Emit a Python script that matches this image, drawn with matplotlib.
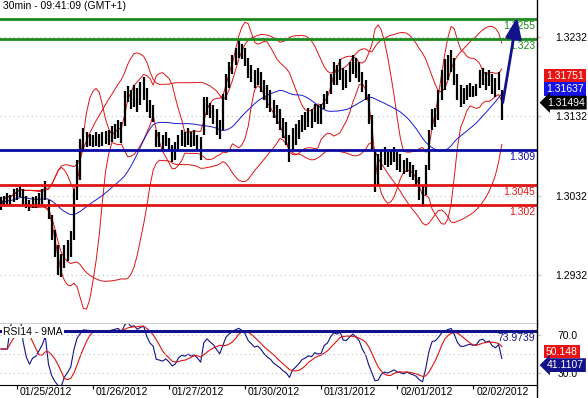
import matplotlib
matplotlib.use("Agg")
import matplotlib.pyplot as plt
import numpy as np
import pandas as pd
from matplotlib.lines import Line2D
from matplotlib.transforms import ScaledTranslation

plt.rcParams['font.family'] = ['Liberation Sans', 'DejaVu Sans']

title = "30min - 09:41:09 (GMT+1)"
dates = ["01/25/2012", "01/26/2012", "01/27/2012", "01/30/2012",
         "01/31/2012", "02/01/2012", "02/02/2012"]
day_start = [5, 29, 53, 77, 101, 125, 149]   # bar index at 00:00 of each day

# hourly highs / lows, in pips (price * 10000)
high_pips = [13030, 13032, 13035, 13033, 13040, 13042, 13045, 13040, 13032, 13027,
             13030, 13031, 13035, 13040, 13050, 13027, 13008, 12989, 12970, 12958,
             12970, 12976, 12987, 13040, 13077, 13103, 13118, 13113, 13110, 13108,
             13112, 13110, 13113, 13114, 13115, 13120, 13123, 13128, 13125, 13164,
             13170, 13166, 13172, 13168, 13176, 13182, 13168, 13153, 13147, 13115,
             13112, 13109, 13113, 13105, 13096, 13100, 13109, 13115, 13113, 13118,
             13113, 13115, 13109, 13106, 13157, 13157, 13149, 13147, 13141, 13128,
             13160, 13185, 13201, 13210, 13219, 13229, 13223, 13219, 13206, 13197,
             13191, 13193, 13188, 13178, 13172, 13166, 13153, 13147, 13141, 13130,
             13125, 13109, 13118, 13123, 13128, 13134, 13138, 13143, 13141, 13148,
             13146, 13148, 13160, 13164, 13185, 13201, 13197, 13204, 13193, 13191,
             13201, 13210, 13206, 13201, 13188, 13178, 13160, 13134, 13090, 13084,
             13090, 13093, 13087, 13090, 13093, 13087, 13084, 13077, 13080, 13075,
             13071, 13065, 13055, 13046, 13071, 13115, 13141, 13143, 13166, 13191,
             13204, 13210, 13216, 13206, 13185, 13172, 13168, 13172, 13174, 13170,
             13173, 13191, 13193, 13188, 13191, 13185, 13181, 13188, 13166]
low_pips = [13014, 13019, 13022, 13021, 13024, 13027, 13030, 13022, 13017, 13013,
            13016, 13017, 13019, 13022, 13027, 13002, 12976, 12954, 12932, 12929,
            12941, 12949, 12954, 12976, 13027, 13052, 13090, 13093, 13095, 13093,
            13095, 13093, 13095, 13097, 13096, 13100, 13103, 13105, 13099, 13120,
            13150, 13142, 13144, 13138, 13147, 13153, 13138, 13130, 13125, 13094,
            13093, 13090, 13095, 13088, 13074, 13077, 13090, 13095, 13093, 13096,
            13093, 13095, 13090, 13077, 13109, 13134, 13130, 13122, 13109, 13103,
            13115, 13153, 13168, 13185, 13197, 13206, 13204, 13196, 13181, 13176,
            13168, 13172, 13163, 13153, 13143, 13138, 13130, 13122, 13115, 13105,
            13096, 13074, 13090, 13096, 13103, 13113, 13115, 13119, 13117, 13125,
            13122, 13122, 13141, 13148, 13160, 13172, 13172, 13178, 13166, 13168,
            13176, 13185, 13181, 13176, 13163, 13153, 13122, 13090, 13037, 13046,
            13065, 13071, 13068, 13071, 13074, 13065, 13062, 13059, 13062, 13055,
            13052, 13046, 13027, 13018, 13033, 13065, 13115, 13119, 13128, 13153,
            13166, 13178, 13188, 13172, 13153, 13144, 13148, 13153, 13157, 13156,
            13158, 13168, 13172, 13166, 13171, 13160, 13157, 13166, 13128]

levels = [1.3255, 1.323, 1.309, 1.3045, 1.302]
level_labels = ["1.3255", "1.323", "1.309", "1.3045", "1.302"]
level_colors = ["#1c8a1c", "#1c8a1c", "#0a0aa5", "#e01414", "#e01414"]
price_ticks = [1.2932, 1.3032, 1.3132, 1.3232]

band_last = 1.31751
ma_last = 1.31637
last_close = 1.31494
target = 1.3257

rsi_level = 73.9739
rsi_ma_last = 50.148
rsi_last = 41.1107

# ---- indicators
hi = np.array(high_pips) / 10000
lo = np.array(low_pips) / 10000
idx = np.arange(len(hi))
s = pd.Series((hi + lo) / 2)

ma = s.rolling(25, min_periods=1).mean()
sd_long = s.rolling(25, min_periods=1).std(ddof=0)
m10 = s.rolling(10, min_periods=1).mean()
sd10 = s.rolling(10, min_periods=1).std(ddof=0)

d = s.diff().fillna(0)
ag = d.clip(lower=0).ewm(alpha=1 / 12, adjust=False).mean()
al = (-d.clip(upper=0)).ewm(alpha=1 / 12, adjust=False).mean()
rsi = 100 - 100 / (1 + ag / al.replace(0, np.nan))
rsi = rsi.fillna(55)
rsi_ma = rsi.rolling(6, min_periods=1).mean()

# ---- figure
W, H = 588, 398
fig = plt.figure(figsize=(W / 100, H / 100), dpi=100)
ax = fig.add_axes([0, 74 / H, 537 / W, 324 / H])
ax2 = fig.add_axes([0, 13 / H, 537 / W, 61 / H])
xl = (-0.3, 169.1)

red = "#dc1414"
navy = "#12128c"

ax.plot(idx, m10 + 2 * sd10, color=red, lw=0.7)
ax.plot(idx, m10 - 2 * sd10, color=red, lw=0.7)
ax.plot(idx, ma + 2 * sd_long, color=red, lw=0.7)
ax.plot(idx, ma - 2 * sd_long, color=red, lw=0.7)
ax.plot(idx, ma, color="#1a1ad0", lw=0.7)
ax.vlines(idx, lo, hi, color="black", lw=1.6)

for lv, lab, c in zip(levels, level_labels, level_colors):
    ax.axhline(lv, color=c, lw=2)
    ax.annotate(lab, xy=(0.996, lv), xycoords=ax.get_yaxis_transform(),
                xytext=(0, -2), textcoords="offset pixels",
                ha="right", va="top", color=c, fontsize=7.5)

ax.annotate("", xy=(162.8, target), xytext=(158.3, last_close),
            arrowprops=dict(arrowstyle="-|>,head_length=0.9,head_width=0.35",
                            color=navy, lw=2, shrinkA=0, shrinkB=0,
                            mutation_scale=14))

ax.set_xlim(*xl)
ax.set_ylim(1.2870, 1.3279)
ax.set_xticks([])
ax.yaxis.tick_right()
ax.set_yticks(price_ticks)
ax.set_yticklabels([f"{t:.4f}" for t in price_ticks])
ax.tick_params(axis="y", length=3, color="#c8c8c8", pad=10, labelsize=7.5)
ax.grid(axis="y", linestyle=(0, (1, 3)), color="#bdbdbd", lw=0.8)
for sp in ["top", "left", "right"]:
    ax.spines[sp].set_visible(False)
ax.spines["bottom"].set_linewidth(1)

tr = ax.get_yaxis_transform()
for val, txt, fc, dy, style, x0 in [
        (band_last, "1.31751", "#e81414", 6, "square,pad=0.18", 9),
        (ma_last, "1.31637", "#1414e6", 2, "square,pad=0.18", 9),
        (last_close, "1.31494", "black", 0, "larrow,pad=0.18", 10)]:
    ax.annotate(txt, xy=(1, val), xycoords=tr, xytext=(x0, dy),
                textcoords="offset pixels", ha="left", va="center",
                color="white", fontsize=7.5, annotation_clip=False,
                bbox=dict(boxstyle=style, fc=fc, ec="none"))

fig.text(3 / W, 1 - 6 / H, title, ha="left", va="center", fontsize=7.5)

# ---- RSI panel
ax2.plot(idx, rsi, color=navy, lw=0.8)
ax2.plot(idx, rsi_ma, color=red, lw=0.8)
ax2.axhline(rsi_level, color=navy, lw=2.2)
ax2.axhline(50, linestyle=(0, (1, 3)), color="#bdbdbd", lw=0.8)
ax2.annotate(f"{rsi_level:.4f}", xy=(0.996, rsi_level), xycoords=ax2.get_yaxis_transform(),
             xytext=(0, -2), textcoords="offset pixels",
             ha="right", va="top", color=navy, fontsize=7.5)
ax2.text(3 / 537, 0.87, "RSI14 - 9MA", transform=ax2.transAxes, ha="left",
         va="center", fontsize=7.5, bbox=dict(boxstyle="square,pad=0.1", fc="white", ec="none"))
ax2.set_xlim(*xl)
ax2.set_ylim(16.8, 81.6)
ax2.yaxis.tick_right()
ax2.set_yticks([30, 70])
ax2.set_yticklabels(["30.0", "70.0"])
ax2.tick_params(axis="y", length=3, color="#c8c8c8", pad=12, labelsize=7.5)
ax2.grid(axis="y", linestyle=(0, (1, 3)), color="#bdbdbd", lw=0.8)
ax2.set_xticks(day_start)
ax2.set_xticklabels(dates)
ax2.tick_params(axis="x", length=3, pad=-1.5, labelsize=7.5, width=0.8)
for lab in ax2.get_xticklabels():
    lab.set_horizontalalignment("left")
    lab.set_transform(lab.get_transform() + ScaledTranslation(3 / 100, 0, fig.dpi_scale_trans))
for sp in ["top", "left", "right"]:
    ax2.spines[sp].set_visible(False)

tr2 = ax2.get_yaxis_transform()
for val, txt, fc, dy, style, x0 in [
        (rsi_ma_last, "50.148", "#e81414", 2, "square,pad=0.18", 9),
        (rsi_last, "41.1107", navy, -3, "larrow,pad=0.18", 10)]:
    ax2.annotate(txt, xy=(1, val), xycoords=tr2, xytext=(x0, dy),
                 textcoords="offset pixels", ha="left", va="center",
                 color="white", fontsize=7.5, annotation_clip=False,
                 bbox=dict(boxstyle=style, fc=fc, ec="none"))

fig.add_artist(Line2D([537 / W, 537 / W], [0, 1], color="black", lw=1))

fig.savefig("out.png", dpi=100)
